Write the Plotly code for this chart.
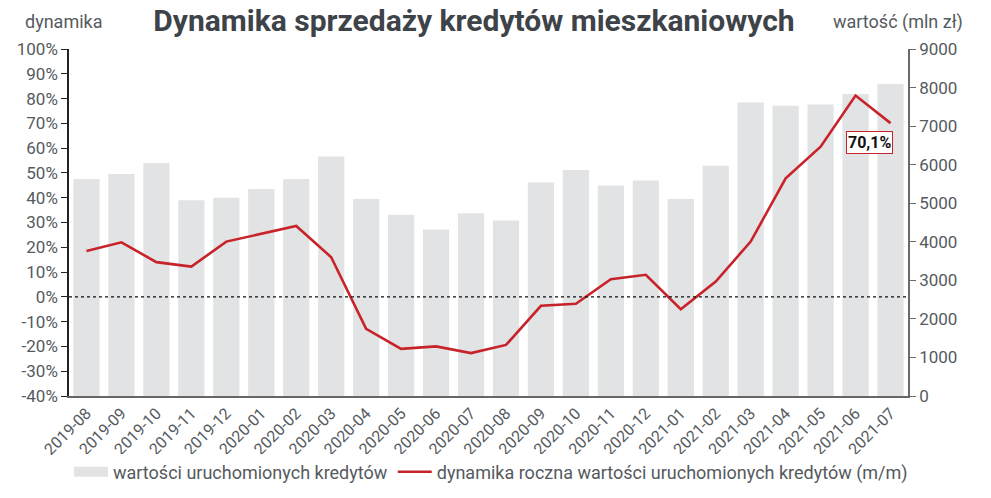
import plotly.graph_objects as go

months = ["2019-08", "2019-09", "2019-10", "2019-11", "2019-12", "2020-01", "2020-02",
          "2020-03", "2020-04", "2020-05", "2020-06", "2020-07", "2020-08", "2020-09",
          "2020-10", "2020-11", "2020-12", "2021-01", "2021-02", "2021-03", "2021-04",
          "2021-05", "2021-06", "2021-07"]
wartosc = [5630, 5760, 6040, 5080, 5140, 5370, 5630, 6210, 5110, 4700, 4320, 4740,
           4550, 5540, 5860, 5460, 5590, 5110, 5970, 7610, 7530, 7560, 7830, 8090]
dynamika = [18.5, 22.0, 14.0, 12.2, 22.3, 25.3, 28.6, 16.0, -12.9, -21.0, -20.0, -22.7,
            -19.4, -3.6, -2.8, 7.1, 8.9, -5.0, 6.2, 22.3, 47.8, 60.6, 81.2, 70.1]
pct_ticks = list(range(-40, 101, 10))
val_ticks = list(range(0, 9001, 1000))

FONT = "Roboto"
GREY_TXT = "#555a5e"
BAR_C = "#e1e3e4"
RED = "#c8232b"
L, R, T, B = 69, 83, 49, 102
PW, PH = 991 - L - R, 498 - T - B

fig = go.Figure()
fig.add_trace(go.Bar(x=months, y=wartosc, name="wartości uruchomionych kredytów",
                     marker=dict(color=BAR_C, line=dict(width=0)), yaxis="y",
                     showlegend=False))
# legend-only entry drawn as a wide grey block
fig.add_trace(go.Scatter(x=[None], y=[None], mode="lines", name="wartości uruchomionych kredytów",
                         line=dict(color=BAR_C, width=13), yaxis="y"))
fig.add_trace(go.Scatter(x=months, y=dynamika, mode="lines",
                         name="dynamika roczna wartości uruchomionych kredytów (m/m)",
                         line=dict(color=RED, width=2.6), yaxis="y2"))

fig.add_shape(type="line", xref="paper", yref="y2", x0=0, x1=1, y0=0, y1=0,
              line=dict(color="#111111", width=1.3, dash="dot"))

fig.update_layout(
    width=991, height=498,
    margin=dict(l=L, r=R, t=T, b=B, autoexpand=False),
    paper_bgcolor="white", plot_bgcolor="white",
    font=dict(family=FONT, size=16, color=GREY_TXT),
    title=dict(text="<b>Dynamika sprzedaży kredytów mieszkaniowych</b>",
               x=474 / 991, xanchor="center", y=1 - 20 / 498, yanchor="middle",
               font=dict(family=FONT, size=30, color="#3d4348")),
    bargap=0.25,
    showlegend=True,
    legend=dict(orientation="h", x=0, xanchor="left",
                y=-(472 - 396) / PH, yanchor="middle",
                font=dict(family=FONT, size=18, color=GREY_TXT),
                itemwidth=34, tracegroupgap=0),
    xaxis=dict(type="category", showgrid=False, tickangle=-45, automargin=False,
               tickfont=dict(size=16, color=GREY_TXT),
               showline=True, linecolor="#666666", linewidth=1.5, ticks=""),
    yaxis=dict(side="right", range=[0, 9000], tickvals=val_ticks, showgrid=False,
               zeroline=False, showline=True, linecolor="#6a6a6a", linewidth=1.5,
               ticks="outside", ticklen=6, tickcolor="#6a6a6a", automargin=False,
               tickfont=dict(size=17, color=GREY_TXT)),
    yaxis2=dict(side="left", overlaying="y", range=[-40, 100], tickvals=pct_ticks,
                ticktext=[f"{v}%" for v in pct_ticks], showgrid=False, zeroline=False,
                showline=True, linecolor="#222222", linewidth=1.5, automargin=False,
                ticks="outside", ticklen=6, tickcolor="#222222",
                tickfont=dict(size=17, color=GREY_TXT)),
    annotations=[
        dict(x=months[-1], y=dynamika[-1], xref="x", yref="y2",
             text="<b>70,1%</b>", showarrow=False, xshift=-21, yshift=-19,
             font=dict(family=FONT, size=16, color="#111111"),
             bgcolor="white", bordercolor=RED, borderwidth=1, borderpad=1),
        dict(x=(63 - L) / PW, y=1 + (T - 22) / PH, xref="paper", yref="paper",
             xanchor="center", yanchor="middle", text="dynamika", showarrow=False,
             font=dict(family=FONT, size=18, color=GREY_TXT)),
        dict(x=(898 - L) / PW, y=1 + (T - 22) / PH, xref="paper", yref="paper",
             xanchor="center", yanchor="middle", text="wartość (mln zł)", showarrow=False,
             font=dict(family=FONT, size=18, color=GREY_TXT)),
    ],
)

fig.write_html("out.html")
